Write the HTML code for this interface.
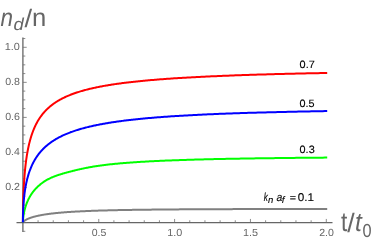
<!DOCTYPE html>
<html><head><meta charset="utf-8"><style>
html,body{margin:0;padding:0;background:#fff;}
body{width:374px;height:241px;overflow:hidden;font-family:"Liberation Sans",sans-serif;}
svg{display:block;will-change:transform;}
</style></head><body>
<svg width="374" height="241" viewBox="0 0 374 241">
<g stroke="#666666" stroke-width="1.3" fill="none">
<path d="M16.5,222.55 H332.5"/>
<path d="M22.9,37.5 V232"/>
</g>
<g stroke="#707070" stroke-width="0.8" fill="none">
<path d="M22.90,222.55 v-3.6"/>
<path d="M38.07,222.55 v-2.3"/>
<path d="M53.24,222.55 v-2.3"/>
<path d="M68.41,222.55 v-2.3"/>
<path d="M83.58,222.55 v-2.3"/>
<path d="M98.75,222.55 v-3.6"/>
<path d="M113.92,222.55 v-2.3"/>
<path d="M129.09,222.55 v-2.3"/>
<path d="M144.26,222.55 v-2.3"/>
<path d="M159.43,222.55 v-2.3"/>
<path d="M174.60,222.55 v-3.6"/>
<path d="M189.77,222.55 v-2.3"/>
<path d="M204.94,222.55 v-2.3"/>
<path d="M220.11,222.55 v-2.3"/>
<path d="M235.28,222.55 v-2.3"/>
<path d="M250.45,222.55 v-3.6"/>
<path d="M265.62,222.55 v-2.3"/>
<path d="M280.79,222.55 v-2.3"/>
<path d="M295.96,222.55 v-2.3"/>
<path d="M311.13,222.55 v-2.3"/>
<path d="M326.30,222.55 v-3.6"/>
<path d="M22.9,231.31 h2.4"/>
<path d="M22.9,222.55 h3.8"/>
<path d="M22.9,213.79 h2.4"/>
<path d="M22.9,205.03 h2.4"/>
<path d="M22.9,196.26 h2.4"/>
<path d="M22.9,187.50 h3.8"/>
<path d="M22.9,178.74 h2.4"/>
<path d="M22.9,169.98 h2.4"/>
<path d="M22.9,161.21 h2.4"/>
<path d="M22.9,152.45 h3.8"/>
<path d="M22.9,143.69 h2.4"/>
<path d="M22.9,134.93 h2.4"/>
<path d="M22.9,126.16 h2.4"/>
<path d="M22.9,117.40 h3.8"/>
<path d="M22.9,108.64 h2.4"/>
<path d="M22.9,99.88 h2.4"/>
<path d="M22.9,91.11 h2.4"/>
<path d="M22.9,82.35 h3.8"/>
<path d="M22.9,73.59 h2.4"/>
<path d="M22.9,64.83 h2.4"/>
<path d="M22.9,56.06 h2.4"/>
<path d="M22.9,47.30 h3.8"/>
<path d="M22.9,38.54 h2.4"/>
</g>
<path d="M22.90,222.55 L22.90,222.55 L22.90,222.55 L22.90,222.55 L22.90,222.55 L22.90,222.54 L22.90,222.54 L22.90,222.54 L22.90,222.53 L22.90,222.53 L22.90,222.52 L22.91,222.51 L22.91,222.51 L22.91,222.50 L22.91,222.49 L22.92,222.48 L22.92,222.47 L22.92,222.46 L22.93,222.44 L22.93,222.43 L22.94,222.42 L22.94,222.40 L22.95,222.39 L22.96,222.37 L22.97,222.35 L22.97,222.34 L22.98,222.32 L22.99,222.30 L23.01,222.28 L23.02,222.26 L23.03,222.23 L23.04,222.21 L23.06,222.19 L23.07,222.16 L23.09,222.14 L23.11,222.11 L23.12,222.09 L23.14,222.06 L23.16,222.03 L23.18,222.00 L23.21,221.97 L23.23,221.94 L23.25,221.91 L23.28,221.88 L23.31,221.84 L23.34,221.81 L23.37,221.77 L23.40,221.74 L23.43,221.70 L23.46,221.67 L23.50,221.63 L23.54,221.59 L23.57,221.55 L23.61,221.51 L23.65,221.47 L23.70,221.43 L23.74,221.39 L23.79,221.34 L23.83,221.30 L23.88,221.25 L23.93,221.21 L23.99,221.16 L24.04,221.12 L24.10,221.07 L24.16,221.02 L24.22,220.97 L24.28,220.93 L24.34,220.88 L24.41,220.83 L24.47,220.77 L24.54,220.72 L24.61,220.67 L24.69,220.62 L24.76,220.57 L24.84,220.51 L24.92,220.46 L25.00,220.40 L25.09,220.35 L25.17,220.29 L25.26,220.23 L25.35,220.18 L25.45,220.12 L25.54,220.06 L25.64,220.00 L25.74,219.94 L25.84,219.88 L25.95,219.82 L26.05,219.76 L26.16,219.70 L26.28,219.64 L26.39,219.58 L26.51,219.52 L26.63,219.45 L26.75,219.39 L26.88,219.33 L27.01,219.26 L27.14,219.20 L27.27,219.14 L27.41,219.07 L27.55,219.01 L27.69,218.94 L27.84,218.88 L27.98,218.81 L28.13,218.74 L28.29,218.68 L28.45,218.61 L28.61,218.54 L28.77,218.48 L28.93,218.41 L29.10,218.34 L29.28,218.28 L29.45,218.21 L29.63,218.14 L29.81,218.07 L30.00,218.00 L30.19,217.93 L30.38,217.87 L30.57,217.80 L30.77,217.73 L30.97,217.66 L31.18,217.59 L31.39,217.52 L31.60,217.45 L31.81,217.38 L32.03,217.32 L32.26,217.25 L32.48,217.18 L32.71,217.11 L32.95,217.04 L33.18,216.97 L33.43,216.90 L33.67,216.83 L33.92,216.76 L34.17,216.69 L34.43,216.62 L34.69,216.56 L34.95,216.49 L35.22,216.42 L35.49,216.35 L35.77,216.28 L36.05,216.21 L36.33,216.14 L36.62,216.08 L36.91,216.01 L37.20,215.94 L37.51,215.87 L37.81,215.81 L38.12,215.74 L38.43,215.67 L38.75,215.60 L39.07,215.54 L39.39,215.47 L39.72,215.40 L40.06,215.34 L40.40,215.27 L40.74,215.21 L41.09,215.14 L41.44,215.08 L41.80,215.01 L42.16,214.95 L42.52,214.88 L42.89,214.82 L43.27,214.76 L43.65,214.69 L44.03,214.63 L44.42,214.57 L44.81,214.50 L45.21,214.44 L45.62,214.38 L46.02,214.32 L46.44,214.26 L46.85,214.20 L47.28,214.14 L47.70,214.08 L48.14,214.02 L48.58,213.96 L49.02,213.90 L49.47,213.84 L49.92,213.78 L50.38,213.72 L50.84,213.66 L51.31,213.61 L51.78,213.55 L52.26,213.49 L52.74,213.44 L53.23,213.38 L53.73,213.33 L54.23,213.27 L54.73,213.22 L55.24,213.16 L55.76,213.11 L56.28,213.06 L56.81,213.00 L57.34,212.95 L57.88,212.90 L58.42,212.85 L58.97,212.80 L59.53,212.74 L60.09,212.69 L60.65,212.64 L61.23,212.59 L61.80,212.55 L62.39,212.50 L62.98,212.45 L63.57,212.40 L64.17,212.35 L64.78,212.31 L65.39,212.26 L66.01,212.21 L66.64,212.17 L67.27,212.12 L67.90,212.08 L68.55,212.03 L69.20,211.99 L69.85,211.95 L70.51,211.90 L71.18,211.86 L71.85,211.82 L72.53,211.78 L73.22,211.73 L73.91,211.69 L74.61,211.65 L75.32,211.61 L76.03,211.57 L76.74,211.53 L77.47,211.49 L78.20,211.46 L78.94,211.42 L79.68,211.38 L80.43,211.34 L81.19,211.31 L81.95,211.27 L82.72,211.23 L83.50,211.20 L84.28,211.16 L85.07,211.13 L85.87,211.09 L86.67,211.06 L87.48,211.02 L88.30,210.99 L89.13,210.96 L89.96,210.93 L90.80,210.89 L91.64,210.86 L92.49,210.83 L93.35,210.80 L94.22,210.77 L95.09,210.74 L95.97,210.71 L96.86,210.68 L97.75,210.65 L98.66,210.62 L99.57,210.59 L100.48,210.57 L101.41,210.54 L102.34,210.51 L103.27,210.49 L104.22,210.46 L105.17,210.43 L106.13,210.41 L107.10,210.38 L108.08,210.36 L109.06,210.33 L110.05,210.31 L111.05,210.28 L112.05,210.26 L113.07,210.24 L114.09,210.21 L115.12,210.19 L116.15,210.17 L117.20,210.14 L118.25,210.12 L119.31,210.10 L120.37,210.08 L121.45,210.06 L122.53,210.04 L123.62,210.02 L124.72,210.00 L125.83,209.98 L126.94,209.96 L128.07,209.94 L129.20,209.92 L130.33,209.90 L131.48,209.88 L132.64,209.87 L133.80,209.85 L134.97,209.83 L136.15,209.81 L137.34,209.80 L138.54,209.78 L139.74,209.76 L140.95,209.75 L142.17,209.73 L143.40,209.71 L144.64,209.70 L145.89,209.68 L147.14,209.67 L148.41,209.65 L149.68,209.64 L150.96,209.63 L152.25,209.61 L153.55,209.60 L154.85,209.58 L156.17,209.57 L157.49,209.56 L158.82,209.54 L160.17,209.53 L161.52,209.52 L162.87,209.51 L164.24,209.49 L165.62,209.48 L167.00,209.47 L168.40,209.46 L169.80,209.45 L171.22,209.44 L172.64,209.42 L174.07,209.41 L175.51,209.40 L176.96,209.39 L178.41,209.38 L179.88,209.37 L181.36,209.36 L182.84,209.35 L184.34,209.34 L185.84,209.33 L187.36,209.32 L188.88,209.32 L190.41,209.31 L191.95,209.30 L193.50,209.29 L195.06,209.28 L196.63,209.27 L198.21,209.26 L199.80,209.26 L201.40,209.25 L203.01,209.24 L204.63,209.23 L206.25,209.22 L207.89,209.22 L209.54,209.21 L211.19,209.20 L212.86,209.20 L214.54,209.19 L216.22,209.18 L217.92,209.18 L219.62,209.17 L221.34,209.16 L223.06,209.16 L224.80,209.15 L226.55,209.14 L228.30,209.14 L230.07,209.13 L231.84,209.13 L233.63,209.12 L235.42,209.12 L237.23,209.11 L239.05,209.10 L240.87,209.10 L242.71,209.09 L244.56,209.09 L246.41,209.08 L248.28,209.08 L250.16,209.07 L252.05,209.07 L253.95,209.07 L255.86,209.06 L257.78,209.06 L259.71,209.05 L261.65,209.05 L263.60,209.04 L265.56,209.04 L267.54,209.04 L269.52,209.03 L271.51,209.03 L273.52,209.02 L275.53,209.02 L277.56,209.02 L279.60,209.01 L281.65,209.01 L283.70,209.01 L285.77,209.00 L287.86,209.00 L289.95,209.00 L292.05,208.99 L294.16,208.99 L296.29,208.99 L298.42,208.98 L300.57,208.98 L302.73,208.98 L304.90,208.98 L307.08,208.97 L309.27,208.97 L311.47,208.97 L313.69,208.97 L315.91,208.96 L318.15,208.96 L320.40,208.96 L322.66,208.96 L324.93,208.95 L327.21,208.95" fill="none" stroke="#808080" stroke-width="2.0" stroke-linejoin="round"/>
<path d="M22.90,222.55 L22.90,222.50 L22.90,222.40 L22.90,222.25 L22.90,222.07 L22.90,221.85 L22.90,221.60 L22.90,221.32 L22.90,221.01 L22.90,220.67 L22.90,220.31 L22.91,219.92 L22.91,219.51 L22.91,219.07 L22.91,218.62 L22.92,218.14 L22.92,217.64 L22.92,217.13 L22.93,216.59 L22.93,216.04 L22.94,215.47 L22.94,214.88 L22.95,214.28 L22.96,213.66 L22.97,213.03 L22.97,212.38 L22.98,211.72 L22.99,211.05 L23.01,210.36 L23.02,209.66 L23.03,208.95 L23.04,208.22 L23.06,207.49 L23.07,206.75 L23.09,205.99 L23.11,205.23 L23.12,204.46 L23.14,203.68 L23.16,202.89 L23.18,202.10 L23.21,201.29 L23.23,200.48 L23.25,199.67 L23.28,198.84 L23.31,198.01 L23.34,197.18 L23.37,196.34 L23.40,195.50 L23.43,194.65 L23.46,193.80 L23.50,192.94 L23.54,192.08 L23.57,191.22 L23.61,190.36 L23.65,189.49 L23.70,188.62 L23.74,187.75 L23.79,186.88 L23.83,186.00 L23.88,185.13 L23.93,184.25 L23.99,183.37 L24.04,182.50 L24.10,181.62 L24.16,180.74 L24.22,179.87 L24.28,178.99 L24.34,178.12 L24.41,177.24 L24.47,176.37 L24.54,175.50 L24.61,174.63 L24.69,173.76 L24.76,172.89 L24.84,172.03 L24.92,171.17 L25.00,170.31 L25.09,169.45 L25.17,168.60 L25.26,167.75 L25.35,166.90 L25.45,166.05 L25.54,165.21 L25.64,164.37 L25.74,163.54 L25.84,162.71 L25.95,161.88 L26.05,161.05 L26.16,160.23 L26.28,159.42 L26.39,158.61 L26.51,157.80 L26.63,156.99 L26.75,156.20 L26.88,155.40 L27.01,154.61 L27.14,153.83 L27.27,153.04 L27.41,152.27 L27.55,151.50 L27.69,150.73 L27.84,149.97 L27.98,149.21 L28.13,148.46 L28.29,147.71 L28.45,146.97 L28.61,146.23 L28.77,145.50 L28.93,144.78 L29.10,144.05 L29.28,143.34 L29.45,142.63 L29.63,141.92 L29.81,141.22 L30.00,140.53 L30.19,139.84 L30.38,139.15 L30.57,138.47 L30.77,137.80 L30.97,137.13 L31.18,136.46 L31.39,135.81 L31.60,135.15 L31.81,134.51 L32.03,133.86 L32.26,133.23 L32.48,132.60 L32.71,131.97 L32.95,131.35 L33.18,130.73 L33.43,130.12 L33.67,129.52 L33.92,128.92 L34.17,128.32 L34.43,127.73 L34.69,127.15 L34.95,126.57 L35.22,126.00 L35.49,125.43 L35.77,124.87 L36.05,124.31 L36.33,123.75 L36.62,123.21 L36.91,122.66 L37.20,122.13 L37.51,121.59 L37.81,121.06 L38.12,120.54 L38.43,120.02 L38.75,119.51 L39.07,119.00 L39.39,118.50 L39.72,118.00 L40.06,117.50 L40.40,117.01 L40.74,116.53 L41.09,116.05 L41.44,115.57 L41.80,115.10 L42.16,114.64 L42.52,114.17 L42.89,113.72 L43.27,113.26 L43.65,112.82 L44.03,112.37 L44.42,111.93 L44.81,111.50 L45.21,111.07 L45.62,110.64 L46.02,110.22 L46.44,109.80 L46.85,109.39 L47.28,108.98 L47.70,108.57 L48.14,108.17 L48.58,107.77 L49.02,107.38 L49.47,106.99 L49.92,106.60 L50.38,106.22 L50.84,105.84 L51.31,105.47 L51.78,105.10 L52.26,104.73 L52.74,104.37 L53.23,104.01 L53.73,103.65 L54.23,103.30 L54.73,102.96 L55.24,102.61 L55.76,102.27 L56.28,101.93 L56.81,101.60 L57.34,101.27 L57.88,100.94 L58.42,100.62 L58.97,100.30 L59.53,99.98 L60.09,99.66 L60.65,99.35 L61.23,99.05 L61.80,98.74 L62.39,98.44 L62.98,98.14 L63.57,97.85 L64.17,97.56 L64.78,97.27 L65.39,96.98 L66.01,96.70 L66.64,96.42 L67.27,96.14 L67.90,95.87 L68.55,95.59 L69.20,95.33 L69.85,95.06 L70.51,94.80 L71.18,94.54 L71.85,94.28 L72.53,94.02 L73.22,93.77 L73.91,93.52 L74.61,93.27 L75.32,93.03 L76.03,92.79 L76.74,92.55 L77.47,92.31 L78.20,92.08 L78.94,91.84 L79.68,91.61 L80.43,91.39 L81.19,91.16 L81.95,90.94 L82.72,90.72 L83.50,90.50 L84.28,90.29 L85.07,90.07 L85.87,89.86 L86.67,89.65 L87.48,89.44 L88.30,89.24 L89.13,89.04 L89.96,88.84 L90.80,88.64 L91.64,88.44 L92.49,88.25 L93.35,88.05 L94.22,87.86 L95.09,87.67 L95.97,87.49 L96.86,87.30 L97.75,87.12 L98.66,86.94 L99.57,86.76 L100.48,86.58 L101.41,86.41 L102.34,86.23 L103.27,86.06 L104.22,85.89 L105.17,85.72 L106.13,85.55 L107.10,85.39 L108.08,85.23 L109.06,85.06 L110.05,84.90 L111.05,84.75 L112.05,84.59 L113.07,84.43 L114.09,84.28 L115.12,84.13 L116.15,83.98 L117.20,83.83 L118.25,83.68 L119.31,83.54 L120.37,83.39 L121.45,83.25 L122.53,83.11 L123.62,82.97 L124.72,82.83 L125.83,82.69 L126.94,82.55 L128.07,82.42 L129.20,82.29 L130.33,82.15 L131.48,82.02 L132.64,81.89 L133.80,81.76 L134.97,81.64 L136.15,81.51 L137.34,81.39 L138.54,81.27 L139.74,81.14 L140.95,81.02 L142.17,80.90 L143.40,80.78 L144.64,80.67 L145.89,80.55 L147.14,80.44 L148.41,80.32 L149.68,80.21 L150.96,80.10 L152.25,79.99 L153.55,79.88 L154.85,79.77 L156.17,79.66 L157.49,79.56 L158.82,79.45 L160.17,79.35 L161.52,79.25 L162.87,79.14 L164.24,79.04 L165.62,78.94 L167.00,78.84 L168.40,78.75 L169.80,78.65 L171.22,78.55 L172.64,78.46 L174.07,78.36 L175.51,78.27 L176.96,78.18 L178.41,78.08 L179.88,77.99 L181.36,77.90 L182.84,77.82 L184.34,77.73 L185.84,77.64 L187.36,77.55 L188.88,77.47 L190.41,77.38 L191.95,77.30 L193.50,77.22 L195.06,77.13 L196.63,77.05 L198.21,76.97 L199.80,76.89 L201.40,76.81 L203.01,76.73 L204.63,76.65 L206.25,76.58 L207.89,76.50 L209.54,76.42 L211.19,76.35 L212.86,76.27 L214.54,76.20 L216.22,76.13 L217.92,76.06 L219.62,75.98 L221.34,75.91 L223.06,75.84 L224.80,75.77 L226.55,75.70 L228.30,75.64 L230.07,75.57 L231.84,75.50 L233.63,75.44 L235.42,75.37 L237.23,75.30 L239.05,75.24 L240.87,75.18 L242.71,75.11 L244.56,75.05 L246.41,74.99 L248.28,74.92 L250.16,74.86 L252.05,74.80 L253.95,74.74 L255.86,74.68 L257.78,74.62 L259.71,74.57 L261.65,74.51 L263.60,74.45 L265.56,74.39 L267.54,74.34 L269.52,74.28 L271.51,74.23 L273.52,74.17 L275.53,74.12 L277.56,74.06 L279.60,74.01 L281.65,73.96 L283.70,73.90 L285.77,73.85 L287.86,73.80 L289.95,73.75 L292.05,73.70 L294.16,73.65 L296.29,73.60 L298.42,73.55 L300.57,73.50 L302.73,73.45 L304.90,73.40 L307.08,73.36 L309.27,73.31 L311.47,73.26 L313.69,73.22 L315.91,73.17 L318.15,73.13 L320.40,73.08 L322.66,73.04 L324.93,72.99 L327.21,72.95" fill="none" stroke="#ff0000" stroke-width="2.0" stroke-linejoin="round"/>
<path d="M22.90,222.55 L22.90,222.55 L22.90,222.53 L22.90,222.51 L22.90,222.49 L22.90,222.46 L22.90,222.42 L22.90,222.37 L22.90,222.32 L22.90,222.26 L22.90,222.20 L22.91,222.13 L22.91,222.06 L22.91,221.98 L22.91,221.89 L22.92,221.80 L22.92,221.71 L22.92,221.61 L22.93,221.50 L22.93,221.39 L22.94,221.27 L22.94,221.15 L22.95,221.02 L22.96,220.89 L22.97,220.75 L22.97,220.61 L22.98,220.46 L22.99,220.31 L23.01,220.16 L23.02,220.00 L23.03,219.83 L23.04,219.66 L23.06,219.49 L23.07,219.31 L23.09,219.13 L23.11,218.94 L23.12,218.75 L23.14,218.56 L23.16,218.36 L23.18,218.16 L23.21,217.95 L23.23,217.74 L23.25,217.53 L23.28,217.31 L23.31,217.09 L23.34,216.86 L23.37,216.63 L23.40,216.40 L23.43,216.17 L23.46,215.93 L23.50,215.69 L23.54,215.44 L23.57,215.19 L23.61,214.94 L23.65,214.69 L23.70,214.43 L23.74,214.17 L23.79,213.91 L23.83,213.64 L23.88,213.38 L23.93,213.11 L23.99,212.83 L24.04,212.56 L24.10,212.28 L24.16,212.00 L24.22,211.72 L24.28,211.43 L24.34,211.15 L24.41,210.86 L24.47,210.57 L24.54,210.27 L24.61,209.98 L24.69,209.68 L24.76,209.39 L24.84,209.09 L24.92,208.79 L25.00,208.48 L25.09,208.18 L25.17,207.87 L25.26,207.57 L25.35,207.26 L25.45,206.95 L25.54,206.64 L25.64,206.32 L25.74,206.01 L25.84,205.70 L25.95,205.38 L26.05,205.07 L26.16,204.75 L26.28,204.43 L26.39,204.11 L26.51,203.79 L26.63,203.48 L26.75,203.16 L26.88,202.83 L27.01,202.51 L27.14,202.19 L27.27,201.87 L27.41,201.55 L27.55,201.23 L27.69,200.90 L27.84,200.58 L27.98,200.26 L28.13,199.94 L28.29,199.61 L28.45,199.29 L28.61,198.97 L28.77,198.64 L28.93,198.32 L29.10,198.00 L29.28,197.68 L29.45,197.36 L29.63,197.04 L29.81,196.71 L30.00,196.39 L30.19,196.07 L30.38,195.76 L30.57,195.44 L30.77,195.12 L30.97,194.80 L31.18,194.48 L31.39,194.17 L31.60,193.85 L31.81,193.54 L32.03,193.23 L32.26,192.91 L32.48,192.60 L32.71,192.29 L32.95,191.98 L33.18,191.67 L33.43,191.36 L33.67,191.06 L33.92,190.75 L34.17,190.45 L34.43,190.14 L34.69,189.84 L34.95,189.54 L35.22,189.24 L35.49,188.94 L35.77,188.64 L36.05,188.35 L36.33,188.05 L36.62,187.76 L36.91,187.46 L37.20,187.17 L37.51,186.88 L37.81,186.60 L38.12,186.31 L38.43,186.02 L38.75,185.74 L39.07,185.46 L39.39,185.18 L39.72,184.90 L40.06,184.62 L40.40,184.35 L40.74,184.07 L41.09,183.80 L41.44,183.53 L41.80,183.26 L42.16,182.99 L42.52,182.73 L42.89,182.46 L43.27,182.20 L43.65,181.94 L44.03,181.69 L44.42,181.43 L44.81,181.18 L45.21,180.93 L45.62,180.68 L46.02,180.43 L46.44,180.19 L46.85,179.95 L47.28,179.71 L47.70,179.47 L48.14,179.24 L48.58,179.01 L49.02,178.78 L49.47,178.55 L49.92,178.33 L50.38,178.11 L50.84,177.89 L51.31,177.68 L51.78,177.47 L52.26,177.26 L52.74,177.06 L53.23,176.85 L53.73,176.65 L54.23,176.46 L54.73,176.26 L55.24,176.07 L55.76,175.88 L56.28,175.69 L56.81,175.51 L57.34,175.32 L57.88,175.14 L58.42,174.96 L58.97,174.79 L59.53,174.61 L60.09,174.43 L60.65,174.26 L61.23,174.09 L61.80,173.92 L62.39,173.74 L62.98,173.57 L63.57,173.40 L64.17,173.23 L64.78,173.06 L65.39,172.89 L66.01,172.72 L66.64,172.55 L67.27,172.38 L67.90,172.21 L68.55,172.04 L69.20,171.87 L69.85,171.70 L70.51,171.52 L71.18,171.35 L71.85,171.18 L72.53,171.01 L73.22,170.83 L73.91,170.66 L74.61,170.49 L75.32,170.32 L76.03,170.14 L76.74,169.97 L77.47,169.80 L78.20,169.63 L78.94,169.46 L79.68,169.29 L80.43,169.12 L81.19,168.95 L81.95,168.79 L82.72,168.62 L83.50,168.46 L84.28,168.29 L85.07,168.13 L85.87,167.97 L86.67,167.81 L87.48,167.66 L88.30,167.50 L89.13,167.35 L89.96,167.20 L90.80,167.05 L91.64,166.90 L92.49,166.75 L93.35,166.61 L94.22,166.47 L95.09,166.33 L95.97,166.19 L96.86,166.06 L97.75,165.92 L98.66,165.79 L99.57,165.66 L100.48,165.54 L101.41,165.41 L102.34,165.29 L103.27,165.16 L104.22,165.04 L105.17,164.93 L106.13,164.81 L107.10,164.70 L108.08,164.58 L109.06,164.47 L110.05,164.36 L111.05,164.26 L112.05,164.15 L113.07,164.04 L114.09,163.94 L115.12,163.84 L116.15,163.74 L117.20,163.64 L118.25,163.55 L119.31,163.45 L120.37,163.36 L121.45,163.26 L122.53,163.17 L123.62,163.08 L124.72,162.99 L125.83,162.90 L126.94,162.82 L128.07,162.73 L129.20,162.65 L130.33,162.56 L131.48,162.48 L132.64,162.40 L133.80,162.32 L134.97,162.24 L136.15,162.16 L137.34,162.09 L138.54,162.01 L139.74,161.94 L140.95,161.86 L142.17,161.79 L143.40,161.72 L144.64,161.65 L145.89,161.58 L147.14,161.51 L148.41,161.44 L149.68,161.37 L150.96,161.30 L152.25,161.24 L153.55,161.17 L154.85,161.11 L156.17,161.05 L157.49,160.98 L158.82,160.92 L160.17,160.86 L161.52,160.80 L162.87,160.74 L164.24,160.68 L165.62,160.62 L167.00,160.57 L168.40,160.51 L169.80,160.45 L171.22,160.40 L172.64,160.34 L174.07,160.29 L175.51,160.24 L176.96,160.19 L178.41,160.13 L179.88,160.08 L181.36,160.03 L182.84,159.98 L184.34,159.93 L185.84,159.89 L187.36,159.84 L188.88,159.79 L190.41,159.74 L191.95,159.70 L193.50,159.65 L195.06,159.61 L196.63,159.56 L198.21,159.52 L199.80,159.48 L201.40,159.44 L203.01,159.39 L204.63,159.35 L206.25,159.31 L207.89,159.27 L209.54,159.23 L211.19,159.19 L212.86,159.15 L214.54,159.11 L216.22,159.08 L217.92,159.04 L219.62,159.00 L221.34,158.97 L223.06,158.93 L224.80,158.90 L226.55,158.86 L228.30,158.83 L230.07,158.79 L231.84,158.76 L233.63,158.73 L235.42,158.69 L237.23,158.66 L239.05,158.63 L240.87,158.60 L242.71,158.57 L244.56,158.54 L246.41,158.51 L248.28,158.48 L250.16,158.45 L252.05,158.42 L253.95,158.39 L255.86,158.36 L257.78,158.33 L259.71,158.31 L261.65,158.28 L263.60,158.25 L265.56,158.23 L267.54,158.20 L269.52,158.18 L271.51,158.15 L273.52,158.13 L275.53,158.10 L277.56,158.08 L279.60,158.05 L281.65,158.03 L283.70,158.01 L285.77,157.98 L287.86,157.96 L289.95,157.94 L292.05,157.92 L294.16,157.89 L296.29,157.87 L298.42,157.85 L300.57,157.83 L302.73,157.81 L304.90,157.79 L307.08,157.77 L309.27,157.75 L311.47,157.73 L313.69,157.71 L315.91,157.69 L318.15,157.67 L320.40,157.65 L322.66,157.64 L324.93,157.62 L327.21,157.60" fill="none" stroke="#00ff00" stroke-width="2.0" stroke-linejoin="round"/>
<path d="M22.90,222.55 L22.90,222.50 L22.90,222.42 L22.90,222.30 L22.90,222.16 L22.90,221.99 L22.90,221.81 L22.90,221.61 L22.90,221.39 L22.90,221.16 L22.90,220.91 L22.91,220.65 L22.91,220.38 L22.91,220.10 L22.91,219.80 L22.92,219.49 L22.92,219.18 L22.92,218.85 L22.93,218.51 L22.93,218.16 L22.94,217.81 L22.94,217.44 L22.95,217.07 L22.96,216.69 L22.97,216.30 L22.97,215.90 L22.98,215.49 L22.99,215.08 L23.01,214.66 L23.02,214.24 L23.03,213.81 L23.04,213.37 L23.06,212.93 L23.07,212.48 L23.09,212.03 L23.11,211.57 L23.12,211.10 L23.14,210.63 L23.16,210.16 L23.18,209.68 L23.21,209.20 L23.23,208.71 L23.25,208.22 L23.28,207.73 L23.31,207.23 L23.34,206.73 L23.37,206.22 L23.40,205.71 L23.43,205.20 L23.46,204.69 L23.50,204.17 L23.54,203.65 L23.57,203.13 L23.61,202.61 L23.65,202.08 L23.70,201.55 L23.74,201.02 L23.79,200.49 L23.83,199.95 L23.88,199.42 L23.93,198.88 L23.99,198.34 L24.04,197.80 L24.10,197.26 L24.16,196.72 L24.22,196.17 L24.28,195.63 L24.34,195.08 L24.41,194.54 L24.47,193.99 L24.54,193.45 L24.61,192.90 L24.69,192.35 L24.76,191.80 L24.84,191.26 L24.92,190.71 L25.00,190.16 L25.09,189.61 L25.17,189.06 L25.26,188.52 L25.35,187.97 L25.45,187.42 L25.54,186.88 L25.64,186.33 L25.74,185.79 L25.84,185.24 L25.95,184.70 L26.05,184.16 L26.16,183.62 L26.28,183.07 L26.39,182.53 L26.51,182.00 L26.63,181.46 L26.75,180.92 L26.88,180.39 L27.01,179.85 L27.14,179.32 L27.27,178.79 L27.41,178.26 L27.55,177.73 L27.69,177.21 L27.84,176.68 L27.98,176.16 L28.13,175.64 L28.29,175.12 L28.45,174.60 L28.61,174.08 L28.77,173.57 L28.93,173.05 L29.10,172.54 L29.28,172.03 L29.45,171.53 L29.63,171.02 L29.81,170.52 L30.00,170.02 L30.19,169.52 L30.38,169.02 L30.57,168.53 L30.77,168.04 L30.97,167.55 L31.18,167.06 L31.39,166.57 L31.60,166.09 L31.81,165.61 L32.03,165.13 L32.26,164.65 L32.48,164.18 L32.71,163.71 L32.95,163.24 L33.18,162.77 L33.43,162.31 L33.67,161.85 L33.92,161.39 L34.17,160.93 L34.43,160.48 L34.69,160.03 L34.95,159.58 L35.22,159.13 L35.49,158.69 L35.77,158.24 L36.05,157.81 L36.33,157.37 L36.62,156.94 L36.91,156.50 L37.20,156.08 L37.51,155.65 L37.81,155.23 L38.12,154.81 L38.43,154.39 L38.75,153.97 L39.07,153.56 L39.39,153.15 L39.72,152.74 L40.06,152.34 L40.40,151.94 L40.74,151.54 L41.09,151.14 L41.44,150.75 L41.80,150.36 L42.16,149.97 L42.52,149.58 L42.89,149.20 L43.27,148.82 L43.65,148.44 L44.03,148.07 L44.42,147.69 L44.81,147.32 L45.21,146.96 L45.62,146.59 L46.02,146.23 L46.44,145.87 L46.85,145.51 L47.28,145.16 L47.70,144.81 L48.14,144.46 L48.58,144.11 L49.02,143.77 L49.47,143.43 L49.92,143.09 L50.38,142.75 L50.84,142.42 L51.31,142.09 L51.78,141.76 L52.26,141.44 L52.74,141.11 L53.23,140.79 L53.73,140.47 L54.23,140.16 L54.73,139.85 L55.24,139.54 L55.76,139.23 L56.28,138.92 L56.81,138.62 L57.34,138.32 L57.88,138.02 L58.42,137.72 L58.97,137.43 L59.53,137.14 L60.09,136.85 L60.65,136.57 L61.23,136.28 L61.80,136.00 L62.39,135.72 L62.98,135.45 L63.57,135.17 L64.17,134.90 L64.78,134.63 L65.39,134.36 L66.01,134.10 L66.64,133.84 L67.27,133.58 L67.90,133.32 L68.55,133.06 L69.20,132.81 L69.85,132.56 L70.51,132.31 L71.18,132.06 L71.85,131.82 L72.53,131.57 L73.22,131.33 L73.91,131.09 L74.61,130.86 L75.32,130.62 L76.03,130.39 L76.74,130.16 L77.47,129.93 L78.20,129.71 L78.94,129.48 L79.68,129.26 L80.43,129.04 L81.19,128.82 L81.95,128.61 L82.72,128.40 L83.50,128.18 L84.28,127.97 L85.07,127.77 L85.87,127.56 L86.67,127.36 L87.48,127.15 L88.30,126.95 L89.13,126.75 L89.96,126.56 L90.80,126.36 L91.64,126.17 L92.49,125.98 L93.35,125.79 L94.22,125.60 L95.09,125.42 L95.97,125.23 L96.86,125.05 L97.75,124.87 L98.66,124.69 L99.57,124.51 L100.48,124.34 L101.41,124.17 L102.34,123.99 L103.27,123.82 L104.22,123.65 L105.17,123.49 L106.13,123.32 L107.10,123.16 L108.08,123.00 L109.06,122.84 L110.05,122.68 L111.05,122.52 L112.05,122.36 L113.07,122.21 L114.09,122.06 L115.12,121.90 L116.15,121.75 L117.20,121.61 L118.25,121.46 L119.31,121.31 L120.37,121.17 L121.45,121.03 L122.53,120.88 L123.62,120.74 L124.72,120.61 L125.83,120.47 L126.94,120.33 L128.07,120.20 L129.20,120.07 L130.33,119.93 L131.48,119.80 L132.64,119.68 L133.80,119.55 L134.97,119.42 L136.15,119.30 L137.34,119.17 L138.54,119.05 L139.74,118.93 L140.95,118.81 L142.17,118.69 L143.40,118.57 L144.64,118.45 L145.89,118.34 L147.14,118.23 L148.41,118.11 L149.68,118.00 L150.96,117.89 L152.25,117.78 L153.55,117.67 L154.85,117.56 L156.17,117.46 L157.49,117.35 L158.82,117.25 L160.17,117.15 L161.52,117.04 L162.87,116.94 L164.24,116.84 L165.62,116.74 L167.00,116.65 L168.40,116.55 L169.80,116.45 L171.22,116.36 L172.64,116.27 L174.07,116.17 L175.51,116.08 L176.96,115.99 L178.41,115.90 L179.88,115.81 L181.36,115.72 L182.84,115.64 L184.34,115.55 L185.84,115.46 L187.36,115.38 L188.88,115.30 L190.41,115.21 L191.95,115.13 L193.50,115.05 L195.06,114.97 L196.63,114.89 L198.21,114.81 L199.80,114.74 L201.40,114.66 L203.01,114.58 L204.63,114.51 L206.25,114.43 L207.89,114.36 L209.54,114.29 L211.19,114.22 L212.86,114.14 L214.54,114.07 L216.22,114.00 L217.92,113.93 L219.62,113.87 L221.34,113.80 L223.06,113.73 L224.80,113.67 L226.55,113.60 L228.30,113.54 L230.07,113.47 L231.84,113.41 L233.63,113.35 L235.42,113.28 L237.23,113.22 L239.05,113.16 L240.87,113.10 L242.71,113.04 L244.56,112.98 L246.41,112.93 L248.28,112.87 L250.16,112.81 L252.05,112.75 L253.95,112.70 L255.86,112.64 L257.78,112.59 L259.71,112.54 L261.65,112.48 L263.60,112.43 L265.56,112.38 L267.54,112.33 L269.52,112.27 L271.51,112.22 L273.52,112.17 L275.53,112.13 L277.56,112.08 L279.60,112.03 L281.65,111.98 L283.70,111.93 L285.77,111.89 L287.86,111.84 L289.95,111.79 L292.05,111.75 L294.16,111.70 L296.29,111.66 L298.42,111.62 L300.57,111.57 L302.73,111.53 L304.90,111.49 L307.08,111.44 L309.27,111.40 L311.47,111.36 L313.69,111.32 L315.91,111.28 L318.15,111.24 L320.40,111.20 L322.66,111.16 L324.93,111.12 L327.21,111.09" fill="none" stroke="#0000ff" stroke-width="2.0" stroke-linejoin="round"/>
<g font-family="Liberation Sans, sans-serif" text-rendering="geometricPrecision">
<text transform="translate(0.53,25.90) scale(0.895,1)" font-size="25.11" font-style="italic" fill="#666666">n</text>
<text transform="translate(13.58,30.02) scale(1.073,1)" font-size="17.15" font-style="italic" fill="#666666">d</text>
<text transform="translate(24.50,26.76) scale(1.092,1)" font-size="25.06" fill="#666666">/</text>
<text transform="translate(31.90,25.90) scale(1.023,1)" font-size="25.09" fill="#666666">n</text>
<text transform="translate(340.96,231.49) scale(0.844,1)" font-size="26.90" fill="#666666">t</text>
<text transform="translate(347.20,231.94) scale(1.008,1)" font-size="26.42" fill="#666666">/</text>
<text transform="translate(355.09,231.44) scale(0.918,1)" font-size="26.51" font-style="italic" fill="#666666">t</text>
<text transform="translate(362.56,236.52) scale(0.862,1)" font-size="18.93" fill="#666666">0</text>
<text transform="translate(5.18,190.00) scale(1.036,1)" font-size="10.31" fill="#666666">0.2</text>
<text transform="translate(5.19,154.95) scale(1.020,1)" font-size="10.31" fill="#666666">0.4</text>
<text transform="translate(5.18,119.90) scale(1.031,1)" font-size="10.31" fill="#666666">0.6</text>
<text transform="translate(5.18,84.85) scale(1.031,1)" font-size="10.31" fill="#666666">0.8</text>
<text transform="translate(4.77,49.80) scale(1.057,1)" font-size="10.31" fill="#666666">1.0</text>
<text transform="translate(91.74,235.50) scale(1.022,1)" font-size="10.31" fill="#666666">0.5</text>
<text transform="translate(167.18,235.50) scale(1.050,1)" font-size="10.31" fill="#666666">1.0</text>
<text transform="translate(243.02,235.50) scale(1.052,1)" font-size="10.31" fill="#666666">1.5</text>
<text transform="translate(319.17,235.50) scale(1.029,1)" font-size="10.31" fill="#666666">2.0</text>
<text transform="translate(299.57,67.79) scale(1.031,1)" font-size="10.59" fill="#000000" stroke="#000" stroke-width="0.12">0.7</text>
<text transform="translate(299.58,106.59) scale(1.024,1)" font-size="10.59" fill="#000000" stroke="#000" stroke-width="0.12">0.5</text>
<text transform="translate(299.58,152.89) scale(1.026,1)" font-size="10.59" fill="#000000" stroke="#000" stroke-width="0.12">0.3</text>
<text transform="translate(263.86,200.70) scale(0.690,1)" font-size="11.87" font-style="italic" fill="#000000" stroke="#000" stroke-width="0.12">k</text>
<text transform="translate(267.94,202.60) scale(1.023,1)" font-size="9.30" font-style="italic" fill="#000000" stroke="#000" stroke-width="0.12">n</text>
<text transform="translate(276.57,200.69) scale(0.905,1)" font-size="11.50" font-style="italic" fill="#000000" stroke="#000" stroke-width="0.12">a</text>
<text transform="translate(281.66,202.90) scale(1.048,1)" font-size="9.52" font-style="italic" fill="#000000" stroke="#000" stroke-width="0.12">f</text>
<text transform="translate(289.78,201.47) scale(1.078,1)" font-size="9.93" fill="#000000" stroke="#000" stroke-width="0.12">=</text>
<text transform="translate(297.74,200.69) scale(1.033,1)" font-size="11.30" fill="#000000" stroke="#000" stroke-width="0.12">0.1</text>
</g>
</svg>
</body></html>
